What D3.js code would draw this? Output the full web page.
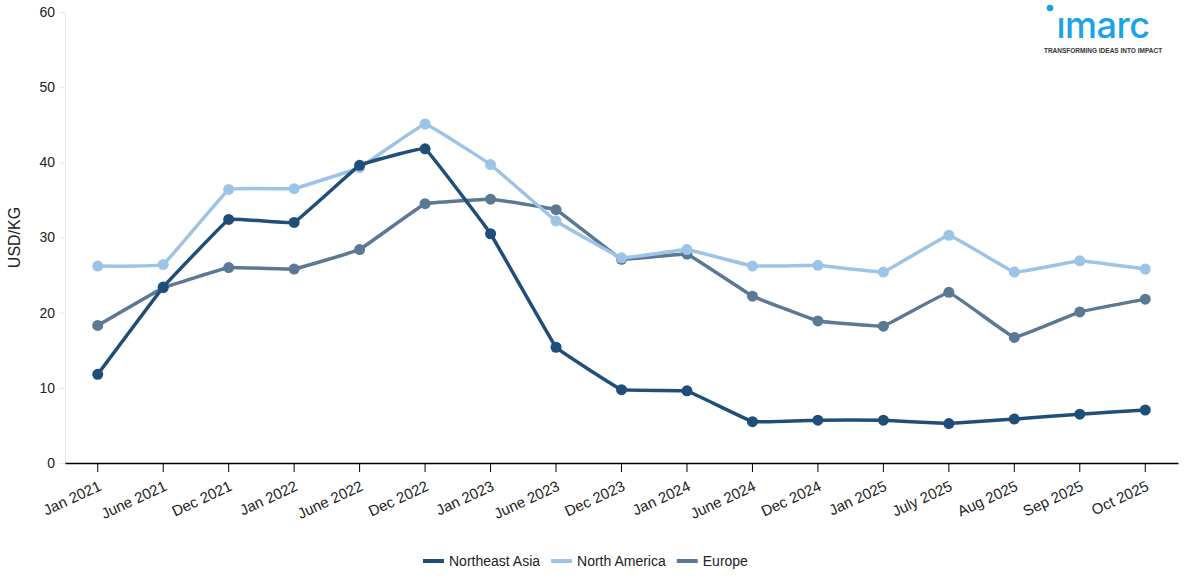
<!DOCTYPE html>
<html>
<head>
<meta charset="utf-8">
<script src="https://cdn.jsdelivr.net/npm/d3@7/dist/d3.min.js"></script>
<style>
  body { margin: 0; background: #fff; }
  svg { font-family: Arial, "Liberation Sans", sans-serif; }
</style>
</head>
<body>
<svg id="chart" width="1187" height="581"></svg>
<script>
var months = ["Jan 2021", "June 2021", "Dec 2021", "Jan 2022", "June 2022", "Dec 2022",
  "Jan 2023", "June 2023", "Dec 2023", "Jan 2024", "June 2024", "Dec 2024",
  "Jan 2025", "July 2025", "Aug 2025", "Sep 2025", "Oct 2025"];

var northeastAsia = [11.8, 23.4, 32.4, 32.0, 39.6, 41.8, 30.5, 15.4, 9.75, 9.6, 5.5, 5.7, 5.7, 5.25, 5.85, 6.5, 7.05];
var northAmerica = [26.2, 26.4, 36.4, 36.5, 39.3, 45.1, 39.7, 32.2, 27.3, 28.4, 26.2, 26.3, 25.4, 30.3, 25.4, 26.9, 25.8];
var europe = [18.3, 23.3, 26.0, 25.8, 28.4, 34.5, 35.1, 33.7, 27.1, 27.8, 22.2, 18.9, 18.2, 22.7, 16.7, 20.1, 21.8];

var yTicks = [0, 10, 20, 30, 40, 50, 60];

var series = [
  { name: "Europe", values: europe, color: "#5b7895" },
  { name: "North America", values: northAmerica, color: "#9dc3e6" },
  { name: "Northeast Asia", values: northeastAsia, color: "#1f4e79" }
];
var legendOrder = ["Northeast Asia", "North America", "Europe"];

var svg = d3.select("#chart");
var mLeft = 65, mRight = 1178, mTop = 12, mBottom = 463;

var x = d3.scaleBand().domain(months).range([mLeft, mRight]);
var y = d3.scaleLinear().domain([0, 60]).range([mBottom, mTop]);

// y axis
var yAxis = svg.append("g").attr("transform", "translate(" + mLeft + ",0)")
  .call(d3.axisLeft(y).tickValues(yTicks).tickSize(6).tickSizeOuter(0));
yAxis.select(".domain").attr("stroke", "#e6e6e6");
yAxis.selectAll(".tick line").attr("stroke", "#e6e6e6");
yAxis.selectAll(".tick text").attr("fill", "#222").style("font-size", "14px").attr("x", -10);

svg.append("text")
  .attr("transform", "translate(20," + ((mTop + mBottom) / 2) + ") rotate(-90)")
  .attr("text-anchor", "middle")
  .style("font-size", "16px")
  .attr("fill", "#222")
  .text("USD/KG");

// x axis
var xAxis = svg.append("g").attr("transform", "translate(0," + mBottom + ")")
  .call(d3.axisBottom(x).tickSize(9).tickSizeOuter(0));
xAxis.select(".domain").attr("stroke", "#000").attr("stroke-width", 1.5);
xAxis.selectAll(".tick line").attr("stroke", "#000");
xAxis.selectAll(".tick text")
  .attr("fill", "#222")
  .style("font-size", "15px")
  .attr("text-anchor", "end")
  .attr("x", 0)
  .attr("y", 0)
  .attr("transform", "translate(0,17) rotate(-25)");

var line = d3.line()
  .x(function(d, i) { return x(months[i]) + x.bandwidth() / 2; })
  .y(function(d) { return y(d); })
  .curve(d3.curveCardinal.tension(0.85));

var g = svg.append("g");
series.forEach(function(s) {
  g.append("path")
    .datum(s.values)
    .attr("fill", "none")
    .attr("stroke", s.color)
    .attr("stroke-width", 3.5)
    .attr("d", line);
  g.selectAll(".dot-" + s.name.replace(/ /g, ""))
    .data(s.values)
    .enter().append("circle")
    .attr("cx", function(d, i) { return x(months[i]) + x.bandwidth() / 2; })
    .attr("cy", function(d) { return y(d); })
    .attr("r", 5.5)
    .attr("fill", s.color);
});

// legend
var legend = svg.append("g").attr("transform", "translate(0,561)");
var lx = 423;
legendOrder.forEach(function(name) {
  var s = series.filter(function(d) { return d.name == name; })[0];
  legend.append("rect").attr("x", lx).attr("y", -2).attr("width", 21).attr("height", 4).attr("fill", s.color);
  var t = legend.append("text").attr("x", lx + 26).attr("y", 5)
    .style("font-size", "14px").attr("fill", "#222").text(name);
  lx += 26 + t.node().getComputedTextLength() + 11;
});

// logo
var logo = svg.append("g").attr("transform", "translate(1103,0)");
logo.append("circle").attr("cx", -53).attr("cy", 8).attr("r", 3.3).attr("fill", "#1aa3e8");
logo.append("text").attr("x", 0).attr("y", 38).attr("text-anchor", "middle")
  .style("font-size", "36px").style("font-weight", "500")
  .style("font-family", "Inter, 'Open Sans', Arial, sans-serif")
  .attr("letter-spacing", "-0.5")
  .attr("fill", "#1aa3e8").text("ımarc");
logo.append("text").attr("x", 0).attr("y", 53).attr("text-anchor", "middle")
  .style("font-size", "6.5px").style("font-weight", "bold").attr("fill", "#333")
  .text("TRANSFORMING IDEAS INTO IMPACT");
</script>
</body>
</html>
